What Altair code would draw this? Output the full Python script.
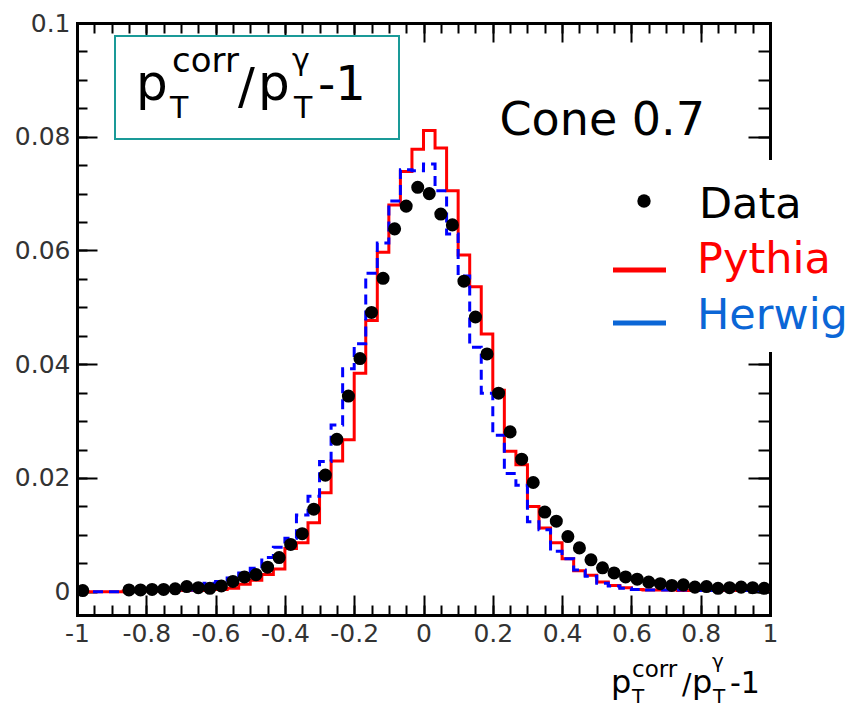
import altair as alt
import numpy as np
import pandas as pd

# ---------------- data ----------------
# 60 bins of width 1/30 between -1 and 1
bin_edges = np.linspace(-1.0, 1.0, 61)
bin_centers = (bin_edges[:-1] + bin_edges[1:]) / 2

data_vals = [0.0002, None, None, None, 0.0003, 0.0003, 0.0004, 0.0004, 0.0005, 0.0009,
             0.0007, 0.0006, 0.0010, 0.0018, 0.0026, 0.0030, 0.0043, 0.0060, 0.0083, 0.0102,
             0.0145, 0.0205, 0.0268, 0.0344, 0.0410, 0.0491, 0.0551, 0.0638, 0.0678, 0.0711,
             0.0700, 0.0664, 0.0645, 0.0546, 0.0483, 0.0418, 0.0349, 0.0281, 0.0233, 0.0192,
             0.0140, 0.0124, 0.0097, 0.0077, 0.0056, 0.0042, 0.0033, 0.0026, 0.0022, 0.0017,
             0.0014, 0.0011, 0.0012, 0.0008, 0.0009, 0.0006, 0.0007, 0.0008, 0.0007, 0.0006]
pythia = [0.0, 0.0, 0.0, 0.0, 0.0001, 0.0001, 0.0001, 0.0002, 0.0002, 0.0002,
          0.0002, 0.0012, 0.0004, 0.0006, 0.0013, 0.0020, 0.0030, 0.0040, 0.0076, 0.0086,
          0.0121, 0.0174, 0.0230, 0.0267, 0.0384, 0.0477, 0.0597, 0.0680, 0.0739, 0.0778,
          0.0811, 0.0780, 0.0705, 0.0592, 0.0536, 0.0453, 0.0354, 0.0247, 0.0223, 0.0150,
          0.0112, 0.0086, 0.0058, 0.0037, 0.0029, 0.0017, 0.0011, 0.0007, 0.0004, 0.0003,
          0.0003, 0.0003, 0.0002, 0.0002, 0.0002, 0.0002, 0.0002, 0.0002, 0.0002, 0.0002]
herwig = [0.0, 0.0, 0.0, 0.0, 0.0002, 0.0002, 0.0002, 0.0003, 0.0003, 0.0003,
          0.0008, 0.0015, 0.0018, 0.0024, 0.0033, 0.0041, 0.0060, 0.0078, 0.0094, 0.0135,
          0.0168, 0.0229, 0.0293, 0.0392, 0.0436, 0.0560, 0.0613, 0.0687, 0.0742, 0.0740,
          0.0752, 0.0705, 0.0629, 0.0555, 0.0430, 0.0349, 0.0275, 0.0208, 0.0187, 0.0123,
          0.0109, 0.0071, 0.0058, 0.0038, 0.0027, 0.0015, 0.0010, 0.0006, 0.0004, 0.0003,
          0.0003, 0.0003, 0.0003, 0.0002, 0.0002, 0.0002, 0.0002, 0.0002, 0.0002, 0.0002]

x_major = [-1, -0.8, -0.6, -0.4, -0.2, 0, 0.2, 0.4, 0.6, 0.8, 1]
x_minor = [round(-1 + 0.05 * i, 2) for i in range(41)]
y_major = [0, 0.02, 0.04, 0.06, 0.08, 0.1]
y_minor = [round(0.005 * i, 3) for i in range(21)]

# step-line table: left edges + final right edge (value repeated)
hist_df = pd.DataFrame({
    "edge": bin_edges,
    "pythia": pythia + [pythia[-1]],
    "herwig": herwig + [herwig[-1]],
})
pts_df = pd.DataFrame({"x": bin_centers, "y": data_vals}).dropna()

# ---------------- layout ----------------
W, H = 693, 592
OX, OY = 77, 23
FONT = "DejaVu Sans"

xs = alt.Scale(domain=[-1, 1], nice=False, zero=False)
ys = alt.Scale(domain=[-0.0041, 0.1], nice=False, zero=False)

base = alt.Chart(hist_df)


def tick_axis(values, orient, offset, size, domain=False):
    kw = dict(values=values, orient=orient, offset=offset, tickSize=size, tickWidth=2,
              tickColor="black", labels=False, title=None, grid=False, domain=domain)
    if domain:
        kw.update(domainWidth=3, domainColor="black", domainCap="square")
    return alt.Axis(**kw)


def xlayer(axis):
    return base.mark_point(opacity=0).encode(
        x=alt.X("edge:Q", scale=xs, axis=axis),
        y=alt.Y("pythia:Q", scale=ys, axis=None))


def ylayer(axis):
    return base.mark_point(opacity=0).encode(
        x=alt.X("edge:Q", scale=xs, axis=None),
        y=alt.Y("pythia:Q", scale=ys, axis=axis))


x_label_axis = alt.Axis(values=x_major, orient="bottom", ticks=False, tickSize=0,
                        labelExpr="replace(format(datum.value, '.1~f'), '\u2212', '-')",
                        labelFont=FONT, labelFontSize=25, labelColor="#333333",
                        labelPadding=6, labelFlush=False, labelOverlap=False,
                        domain=True, domainWidth=3, domainColor="black", domainCap="square",
                        title=None, grid=False)
y_label_axis = alt.Axis(values=y_major, orient="left", ticks=False, tickSize=0,
                        format=".2~f",
                        labelFont=FONT, labelFontSize=25, labelColor="#333333",
                        labelPadding=7, labelFlush=False, labelOverlap=False,
                        domain=True, domainWidth=3, domainColor="black", domainCap="square",
                        title=None, grid=False)

axis_layers = [
    xlayer(x_label_axis),
    xlayer(tick_axis(x_major, "top", -H, 20)),          # bottom edge, inward
    xlayer(tick_axis(x_minor, "top", -H, 10)),
    xlayer(tick_axis(x_major, "bottom", -H, 19, True)),  # top edge, inward
    xlayer(tick_axis(x_minor, "bottom", -H, 10)),
    ylayer(y_label_axis),
    ylayer(tick_axis(y_major, "right", -W, 20)),         # left edge, inward
    ylayer(tick_axis(y_minor, "right", -W, 10)),
    ylayer(tick_axis(y_major, "left", -W, 22, True)),    # right edge, inward
    ylayer(tick_axis(y_minor, "left", -W, 12)),
]

red_line = base.mark_line(interpolate="step-after", color="#ff0000", strokeWidth=3).encode(
    x=alt.X("edge:Q", scale=xs, axis=None), y=alt.Y("pythia:Q", scale=ys, axis=None))
blue_line = base.mark_line(interpolate="step-after", color="#0000ff", strokeWidth=3,
                           strokeDash=[10, 6]).encode(
    x=alt.X("edge:Q", scale=xs, axis=None), y=alt.Y("herwig:Q", scale=ys, axis=None))
dots = alt.Chart(pts_df).mark_circle(size=170, color="black", opacity=1).encode(
    x=alt.X("x:Q", scale=xs, axis=None), y=alt.Y("y:Q", scale=ys, axis=None))

one = alt.Data(values=[{}])


def txt(text, x, y, size, color="black", align="left"):
    return alt.Chart(one).mark_text(text=text, align=align, baseline="alphabetic",
                                    fontSize=size, font=FONT, color=color).encode(
        x=alt.value(x - OX), y=alt.value(y - OY))


def rect(x1, y1, x2, y2, fill, stroke="white", sw=0):
    return alt.Chart(one).mark_rect(fill=fill, stroke=stroke, strokeWidth=sw).encode(
        x=alt.value(x1 - OX), x2=alt.value(x2 - OX), y=alt.value(y1 - OY), y2=alt.value(y2 - OY))


def hline(x1, x2, y, color, sw):
    return alt.Chart(one).mark_rule(color=color, strokeWidth=sw).encode(
        x=alt.value(x1 - OX), x2=alt.value(x2 - OX), y=alt.value(y - OY))


# title box with formula
box = [rect(115, 36, 399, 139, "white", "#1a9a98", 2)]
box_txt = [
    txt("p", 136, 100, 50), txt("corr", 172, 72, 34), txt("T", 170, 118, 30),
    txt("/", 238, 103, 50), txt("p", 258, 100, 50), txt("\u03b3", 292, 70, 30),
    txt("T", 294, 118, 30), txt("-1", 318, 100, 48),
]
cone = [txt("Cone 0.7", 705, 135, 46, align="right")]

# x axis title (formula)
xtitle = [
    txt("p", 611, 693, 32), txt("corr", 632, 677, 23), txt("T", 632, 703, 20),
    txt("/", 682, 694, 28), txt("p", 692, 693, 32), txt("\u03b3", 712, 668, 20),
    txt("T", 713, 703, 20), txt("-1", 730, 693, 30),
]

# legend
legend = [
    rect(603, 160, 860, 352, "white"),
    alt.Chart(one).mark_point(filled=True, color="black", size=180, opacity=1).encode(
        x=alt.value(644 - OX), y=alt.value(201 - OY)),
    hline(613, 666, 270, "#ff0000", 5),
    hline(613, 666, 323, "#0b66d6", 5),
    txt("Data", 699, 218, 43),
    txt("Pythia", 697, 273, 43, color="#ff0000"),
    txt("Herwig", 697, 329, 43, color="#0b66d6"),
]

chart = alt.layer(
    *axis_layers, red_line, blue_line, dots, *box, *box_txt, *cone, *xtitle, *legend
).resolve_axis(x="independent", y="independent").properties(
    width=W, height=H,
    padding={"left": OX, "top": OY, "right": 850 - OX - W, "bottom": 708 - OY - H},
    autosize=alt.AutoSizeParams(type="none"),
    background="white",
).configure_view(strokeWidth=0)

chart.save("out.html", embed_options={"renderer": "svg", "actions": False})
